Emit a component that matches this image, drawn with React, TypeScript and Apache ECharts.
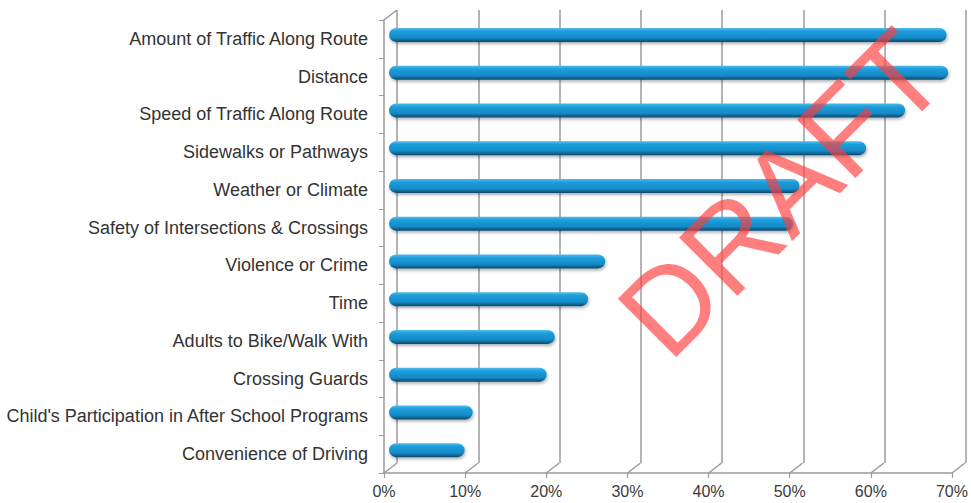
import React, { useEffect, useRef } from "react";
import * as echarts from "echarts";

const categories = [
  "Amount of Traffic Along Route",
  "Distance",
  "Speed of Traffic Along Route",
  "Sidewalks or Pathways",
  "Weather or Climate",
  "Safety of Intersections & Crossings",
  "Violence or Crime",
  "Time",
  "Adults to Bike/Walk With",
  "Crossing Guards",
  "Child's Participation in After School Programs",
  "Convenience of Driving",
];

const values = [68.6, 68.8, 63.5, 58.7, 50.5, 49.7, 26.6, 24.5, 20.4, 19.4, 10.3, 9.3];

const tickValues = [0, 10, 20, 30, 40, 50, 60, 70];

const FONT = "'Liberation Sans', Arial, sans-serif";
const GRAY = "#9c9a9a";
const DX = 13;
const DY = 10;

export default function App() {
  const ref = useRef<HTMLDivElement>(null);

  useEffect(() => {
    document.body.style.margin = "0";
    const chart = echarts.init(ref.current!, null, { renderer: "svg" });

    const frontGrid = { left: 384, top: 20, width: 569, height: 453 };
    const backGrid = { left: 384 + DX, top: 20 - DY, width: 569, height: 453 };
    const midGrid = { left: 389, top: 16, width: 569, height: 453 };

    const option: any = {
      animation: false,
      backgroundColor: "#ffffff",
      textStyle: { fontFamily: FONT },
      grid: [frontGrid, backGrid, midGrid],
      xAxis: [
        {
          gridIndex: 0,
          type: "value",
          min: 0,
          max: 70,
          interval: 10,
          axisLine: { show: true, lineStyle: { color: GRAY, width: 1.5 } },
          axisTick: { show: true, length: 5, lineStyle: { color: GRAY, width: 1.2 } },
          splitLine: { show: false },
          axisLabel: {
            margin: 10,
            fontSize: 16,
            color: "#3a3a3a",
            fontFamily: FONT,
            formatter: (v: number) => v + "%",
          },
        },
        {
          gridIndex: 1,
          type: "value",
          min: 0,
          max: 70,
          interval: 10,
          axisLine: { show: false },
          axisTick: { show: false },
          axisLabel: { show: false },
          splitLine: { show: true, lineStyle: { color: GRAY, width: 1.5 } },
        },
        {
          gridIndex: 2,
          type: "value",
          min: 0,
          max: 70,
          interval: 10,
          show: false,
        },
      ],
      yAxis: [
        {
          gridIndex: 0,
          type: "category",
          data: categories,
          inverse: true,
          axisLine: { show: true, lineStyle: { color: GRAY, width: 1.5 } },
          axisTick: { show: true, length: 5, lineStyle: { color: GRAY, width: 1 } },
          axisLabel: { margin: 16, fontSize: 18, color: "#333333", fontFamily: FONT },
        },
        {
          gridIndex: 1,
          type: "category",
          data: categories,
          inverse: true,
          show: false,
        },
        {
          gridIndex: 2,
          type: "category",
          data: categories,
          inverse: true,
          show: false,
        },
      ],
      series: [
        {
          type: "custom",
          xAxisIndex: 0,
          yAxisIndex: 0,
          silent: true,
          data: [
            ...tickValues.map((v) => [v, 0, 0]),
            [0, 0, 1],
          ],
          renderItem: (params: any, api: any) => {
            const cs = params.coordSys;
            const x = api.coord([api.value(0), 0])[0];
            const kind = api.value(2);
            const y = kind === 1 ? cs.y : cs.y + cs.height;
            return {
              type: "line",
              shape: { x1: x, y1: y, x2: x + DX, y2: y - DY },
              style: { stroke: GRAY, lineWidth: 1.5 },
            };
          },
          z: 1,
        },
        {
          type: "bar",
          xAxisIndex: 2,
          yAxisIndex: 2,
          data: values,
          barWidth: 14,
          itemStyle: {
            borderRadius: 7,
            color: new echarts.graphic.LinearGradient(0, 0, 0, 1, [
              { offset: 0, color: "#52bdec" },
              { offset: 0.25, color: "#1c9dda" },
              { offset: 0.7, color: "#168bc8" },
              { offset: 1, color: "#0b4a70" },
            ]),
            shadowColor: "rgba(0,0,0,0.3)",
            shadowBlur: 3,
            shadowOffsetY: 2,
            shadowOffsetX: 1,
          },
          z: 3,
        },
      ],
      graphic: [
        {
          type: "text",
          x: 781,
          y: 193,
          rotation: Math.PI / 4,
          z: 100,
          silent: true,
          style: {
            text: "DRAFT",
            fontSize: 120,
            fontFamily: FONT,
            fill: "rgba(255,60,60,0.66)",
            textAlign: "center",
            textVerticalAlign: "middle",
          },
        },
      ],
    };

    chart.setOption(option);
    return () => chart.dispose();
  }, []);

  return (
    <div
      ref={ref}
      style={{ position: "absolute", left: 0, top: 0, width: 971, height: 503 }}
    />
  );
}
